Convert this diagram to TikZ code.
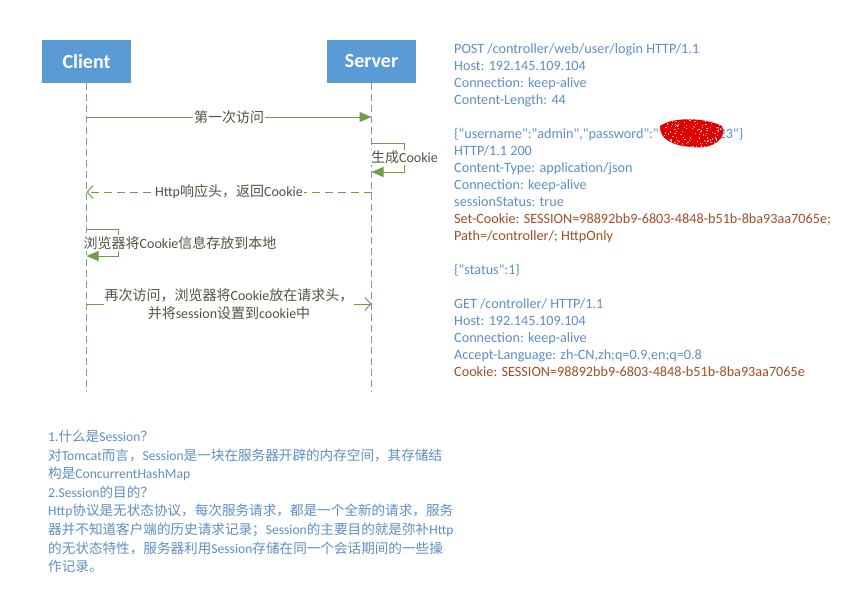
\documentclass[tikz,border=0pt]{standalone}
\usepackage{fontspec}
\setmainfont{Carlito}[Ligatures=TeXOff]
\newfontfamily\zhfont{Noto Sans CJK SC}
\newcommand{\zhtext}[1]{{\zhfont #1}}
\usetikzlibrary{arrows.meta, positioning}

\begin{document}
\begin{tikzpicture}[x=1pt, y=-1pt]
    % Define colours
    \definecolor{boxColour}{HTML}{5B9BD5}
    \definecolor{lifeColour}{HTML}{8096AC}
    \definecolor{msgColour}{HTML}{6E9F45}
    \definecolor{labelColour}{HTML}{50553F}
    \definecolor{headColour}{HTML}{5E8EC3}
    \definecolor{cookieColour}{HTML}{A34E22}

    \tikzset{
        actor/.style={rectangle, fill=boxColour, text=white, font=\fontsize{20}{24}\bfseries,
            minimum width=89pt, minimum height=43pt, inner sep=0pt},
        lifeline/.style={draw=lifeColour, line width=0.9pt, dash pattern=on 7pt off 4pt},
        msg/.style={draw=msgColour, line width=1pt},
        msglabel/.style={fill=white, text=labelColour, font=\fontsize{14}{17}\selectfont, inner sep=1pt},
        filledtip/.style={-{Triangle[length=12pt, width=10pt, fill=msgColour]}},
        opentip/.style={-{Straight Barb[length=6pt, width=13pt]}},
    }

    \useasboundingbox (0,0) rectangle (854,595);

    % Draw the two participants and their lifelines
    \node[actor] (client) at (86.5,61.5) {Client};
    \node[actor] (server) at (371.5,61.5) {Server};
    \coordinate (clientEnd) at (86.5,392);
    \coordinate (serverEnd) at (371.5,392);
    \draw[lifeline] (client) -- (clientEnd);
    \draw[lifeline] (server) -- (serverEnd);

    % Points on the lifelines
    \coordinate (firstC) at (client |- 0,117);
    \coordinate (firstS) at (server |- 0,117);
    \coordinate (makeTop) at (server |- 0,143);
    \coordinate (makeBot) at (server |- 0,172);
    \coordinate (replyS) at (server |- 0,192);
    \coordinate (replyC) at (client |- 0,192);
    \coordinate (storeTop) at (client |- 0,229);
    \coordinate (storeBot) at (client |- 0,256);
    \coordinate (againC) at (client |- 0,304);
    \coordinate (againS) at (server |- 0,304);

    % Messages
    \draw[msg, filledtip] (firstC) -- node[msglabel] {\zhtext{第一次访问}} (firstS);
    \draw[msg, filledtip] (makeTop) -- ++(33,0) -- node[msglabel] {\zhtext{生成}Cookie} ++(0,29) -- (makeBot);
    \draw[msg, opentip, dash pattern=on 8pt off 5pt] (replyS) -- node[msglabel] {Http\zhtext{响应头，返回}Cookie} (replyC);
    \draw[msg, filledtip] (storeTop) -- ++(32,0) -- ++(0,27) -- (storeBot);
    \node[msglabel, anchor=west] (storeLabel) at (82.5,243) {\zhtext{浏览器将}Cookie\zhtext{信息存放到本地}};
    \draw[msg, opentip] (againC) -- node[msglabel, align=center, font=\fontsize{14}{18}\selectfont]
        {\zhtext{再次访问，浏览器将}Cookie\zhtext{放在请求头，}\\\zhtext{并将}session\zhtext{设置到}cookie\zhtext{中}} (againS);

    % HTTP messages on the right
    \node[anchor=north west, align=left, text=headColour, font=\fontsize{14.2}{17}\selectfont, inner sep=0pt] (headers) at (454,43)
        {POST /controller/web/user/login HTTP/1.1\\
         Host: 192.145.109.104\\
         Connection: keep-alive\\
         Content-Length: 44\\[17pt]
         \{"username":"admin","password":"\hspace{60pt}23"\}\\
         HTTP/1.1 200\\
         Content-Type: application/json\\
         Connection: keep-alive\\
         sessionStatus: true\\
         \textcolor{cookieColour}{Set-Cookie: SESSION=98892bb9-6803-4848-b51b-8ba93aa7065e;}\\
         \textcolor{cookieColour}{Path=/controller/; HttpOnly}\\[17pt]
         \{"status":1\}\\[17pt]
         GET /controller/ HTTP/1.1\\
         Host: 192.145.109.104\\
         Connection: keep-alive\\
         Accept-Language: zh-CN,zh;q=0.9,en;q=0.8\\
         \textcolor{cookieColour}{Cookie: SESSION=98892bb9-6803-4848-b51b-8ba93aa7065e}};

    % Hidden password (scribbled over)
    \begin{scope}
        \clip (660,126) .. controls (674,116) and (706,118) .. (722,126)
            .. controls (728,137) and (714,150) .. (692,147) .. controls (673,146) and (659,139) .. (660,126) -- cycle;
        \fill[red!88!black] (655,112) rectangle (730,152);
        \pgfmathsetseed{17}
        \foreach \i in {1,...,220} {
            \pgfmathsetmacro{\px}{658+70*rnd}
            \pgfmathsetmacro{\py}{114+36*rnd}
            \fill[white!70!red] (\px,\py) rectangle ++(1.2,1.2);
        }
    \end{scope}

    % Notes below
    \node[anchor=north west, align=left, text=headColour, font=\fontsize{13.6}{18.6}\selectfont, inner sep=0pt] (notes) at (48,430)
        {1.\zhtext{什么是}Session\zhtext{？}\\
         \zhtext{对}Tomcat\zhtext{而言，}Session\zhtext{是一块在服务器开辟的内存空间，其存储结}\\
         \zhtext{构是}ConcurrentHashMap\\
         2.Session\zhtext{的目的？}\\
         Http\zhtext{协议是无状态协议，每次服务请求，都是一个全新的请求，服务}\\
         \zhtext{器并不知道客户端的历史请求记录；}Session\zhtext{的主要目的就是弥补}Http\\
         \zhtext{的无状态特性，服务器利用}Session\zhtext{存储在同一个会话期间的一些操}\\
         \zhtext{作记录。}};

\end{tikzpicture}
\end{document}
